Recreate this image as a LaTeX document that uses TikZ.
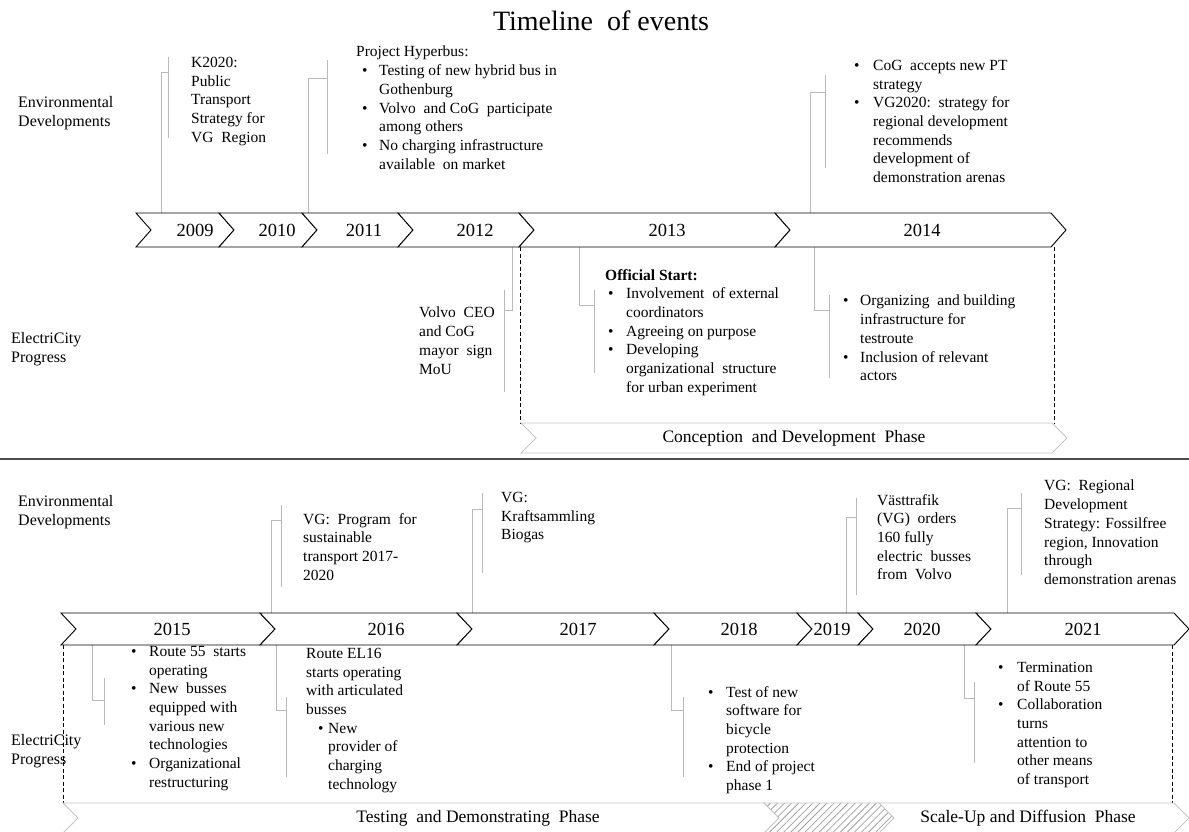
\documentclass[tikz,border=0pt]{standalone}
\usepackage{fontspec}
\setmainfont{Liberation Serif}
\usetikzlibrary{patterns.meta}

\newcommand{\evbul}[1][18pt]{\makebox[#1][l]{\textbullet}}
\newcommand{\evind}[1][18pt]{\hspace*{#1}}
\newcommand{\chev}[5][band]{\draw[#1] (#2,#4) -- (#3,#4) -- ++(15,{(#5-#4)/2}) -- (#3,#5) -- (#2,#5) -- ++(15,{-(#5-#4)/2}) -- cycle;}

\tikzset{
  band/.style={draw=black,line width=0.9pt,fill=white},
  phase/.style={draw=gray!45,line width=0.9pt,fill=white},
  hatch/.style={draw=gray!45,line width=0.6pt,pattern={Lines[angle=45,distance=5pt,line width=0.8pt]},pattern color=gray!75},
  year/.style={font=\fontsize{18.5}{22}\selectfont},
  ev/.style={anchor=north west,inner sep=0pt,align=left,font=\fontsize{15.5}{18.7}\selectfont},
  side/.style={anchor=west,inner sep=0pt,align=left,font=\fontsize{16}{19}\selectfont},
  phasetext/.style={font=\fontsize{17.5}{20}\selectfont},
  lead/.style={draw=gray!55,line width=1pt},
  frame/.style={draw=black,line width=0.9pt,dash pattern=on 4pt off 2.5pt}
}

\begin{document}
\begin{tikzpicture}[x=1pt,y=-1pt]
\useasboundingbox (0,0) rectangle (1189,831);

\node[font=\fontsize{28}{32}\selectfont] (title) at (601,21) {Timeline\ \ of events};

% row labels
\node[side] (envA) at (18,113) {Environmental\\Developments};
\node[side] (ecA)  at (11,349) {ElectriCity\\Progress};
\node[side] (envB) at (18,512) {Environmental\\Developments};
\node[side] (ecB)  at (11,751) {ElectriCity\\Progress};

% leaders: band point, jog, bracket
\foreach \n/\bx/\by/\jy/\kx/\ka/\kb in {1/161/213/72/168/57/138, 2/308/213/78/327/60/154, 3/810/213/92/825/75/168,
    4/512/247/310/504/290/392, 5/579/247/305/594/290/373, 6/814/247/310/829/295/378,
    7/271/613/520/281/505/587, 8/472/613/509/482/493/573, 9/846/613/517/856/498/595, 10/1007/613/508/1021/493/575,
    11/92/645/700/104/678/725, 12/276/645/710/286/697/777, 13/671/645/710/683/697/777, 14/964/645/698/974/682/763}
{
  \coordinate (b\n) at (\bx,\by);
  \coordinate (k\n) at (\kx,\jy);
  \draw[lead] (b\n) |- (k\n);
  \draw[lead] (\kx,\ka) -- (\kx,\kb);
}

% dashed phase frames
\draw[frame] (520,247) -- (520,423);
\draw[frame] (1054,247) -- (1054,423);
\draw[frame] (63,645) -- (63,803);
\draw[frame] (1172,645) -- (1172,803);

% years
\foreach \a/\b/\yr/\tx in {136/219/2009/195, 219/302/2010/277, 302/398/2011/364, 398/519/2012/475, 519/775/2013/667, 775/1051/2014/922}
{
  \chev{\a}{\b}{213}{247}
  \node[year] (y\yr) at (\tx,230) {\yr};
}
\foreach \a/\b/\yr/\tx in {61/260/2015/172, 260/457/2016/386, 457/654/2017/578, 654/797/2018/739, 797/858/2019/832, 858/976/2020/922, 976/1174/2021/1083}
{
  \chev{\a}{\b}{613}{645}
  \node[year] (y\yr) at (\tx,629) {\yr};
}

% phases
\chev[phase]{521}{1052}{423}{453}
\node[phasetext] (conc) at (794,438) {Conception\ \ and Development\ \ Phase};
\chev[phase]{63}{764}{803}{833}
\node[phasetext] (test) at (478,818) {Testing\ \ and Demonstrating\ \ Phase};
\chev[hatch]{764}{879}{803}{833}
\chev[phase]{879}{1174}{803}{833}
\node[phasetext] (scale) at (1028,818) {Scale-Up\ and Diffusion\ \ Phase};

\draw[draw=gray!60!black,line width=1.6pt] (0,459) -- (1189,459);

% events 2009-2014
\node[ev] (k2020) at (191,57) {K2020:\\Public\\Transport\\Strategy for\\VG\ \ Region};
\node[ev] (hyper) at (356,46) {Project Hyperbus:\\
  \hspace*{6pt}\evbul[17pt]Testing of new hybrid bus in\\\hspace*{6pt}\evind[17pt]Gothenburg\\
  \hspace*{6pt}\evbul[17pt]Volvo\ \ and CoG\ \ participate\\\hspace*{6pt}\evind[17pt]among others\\
  \hspace*{6pt}\evbul[17pt]No charging infrastructure\\\hspace*{6pt}\evind[17pt]available\ \ on market};
\node[ev] (ptstrat) at (854,60) {\evbul[19pt]CoG\ \ accepts new PT\\\evind[19pt]strategy\\
  \evbul[19pt]VG2020:\ \ strategy for\\\evind[19pt]regional development\\\evind[19pt]recommends\\
  \evind[19pt]development of\\\evind[19pt]demonstration arenas};
\node[ev] (mou) at (419,307) {Volvo\ \ CEO\\and CoG\\mayor\ \ sign\\MoU};
\node[ev] (start) at (605,269) {\textbf{Official Start:}\\
  \hspace*{3pt}\evbul Involvement\ \ of external\\\hspace*{3pt}\evind coordinators\\
  \hspace*{3pt}\evbul Agreeing on purpose\\
  \hspace*{3pt}\evbul Developing\\\hspace*{3pt}\evind organizational\ \ structure\\\hspace*{3pt}\evind for urban experiment};
\node[ev] (infra) at (843,295) {\evbul[17pt]Organizing\ \ and building\\\evind[17pt]infrastructure for\\\evind[17pt]testroute\\
  \evbul[17pt]Inclusion of relevant\\\evind[17pt]actors};

% events 2015-2021
\node[ev] (prog) at (303,513) {VG:\ \ Program\ \ for\\sustainable\\transport 2017-\\2020};
\node[ev] (kraft) at (501,492) {VG:\\Kraftsammling\\Biogas};
\node[ev] (vt) at (877,494) {V\"asttrafik\\(VG)\ \ orders\\160\ fully\\electric\ \ busses\\from\ \ Volvo};
\node[ev] (rds) at (1044,480) {VG:\ \ Regional\\Development\\Strategy: Fossilfree\\region, Innovation\\through\\demonstration arenas};
\node[ev] (r55) at (131,646) {\evbul Route 55\ \ starts\\\evind operating\\
  \evbul New\ \ busses\\\evind equipped with\\\evind various new\\\evind technologies\\
  \evbul Organizational\\\evind restructuring};
\node[ev] (el16) at (306,648) {Route EL16\\starts operating\\with articulated\\busses\\
  \hspace*{12pt}\evbul[10pt]New\\\hspace*{22pt}provider of\\\hspace*{22pt}charging\\\hspace*{22pt}technology};
\node[ev] (bike) at (708,686) {\evbul Test of new\\\evind software for\\\evind bicycle\\\evind protection\\
  \evbul End of project\\\evind phase 1};
\node[ev] (term) at (998,662) {\evbul[19pt]Termination\\\evind[19pt]of Route\ 55\\
  \evbul[19pt]Collaboration\\\evind[19pt]turns\\\evind[19pt]attention to\\\evind[19pt]other means\\\evind[19pt]of transport};

\end{tikzpicture}
\end{document}
